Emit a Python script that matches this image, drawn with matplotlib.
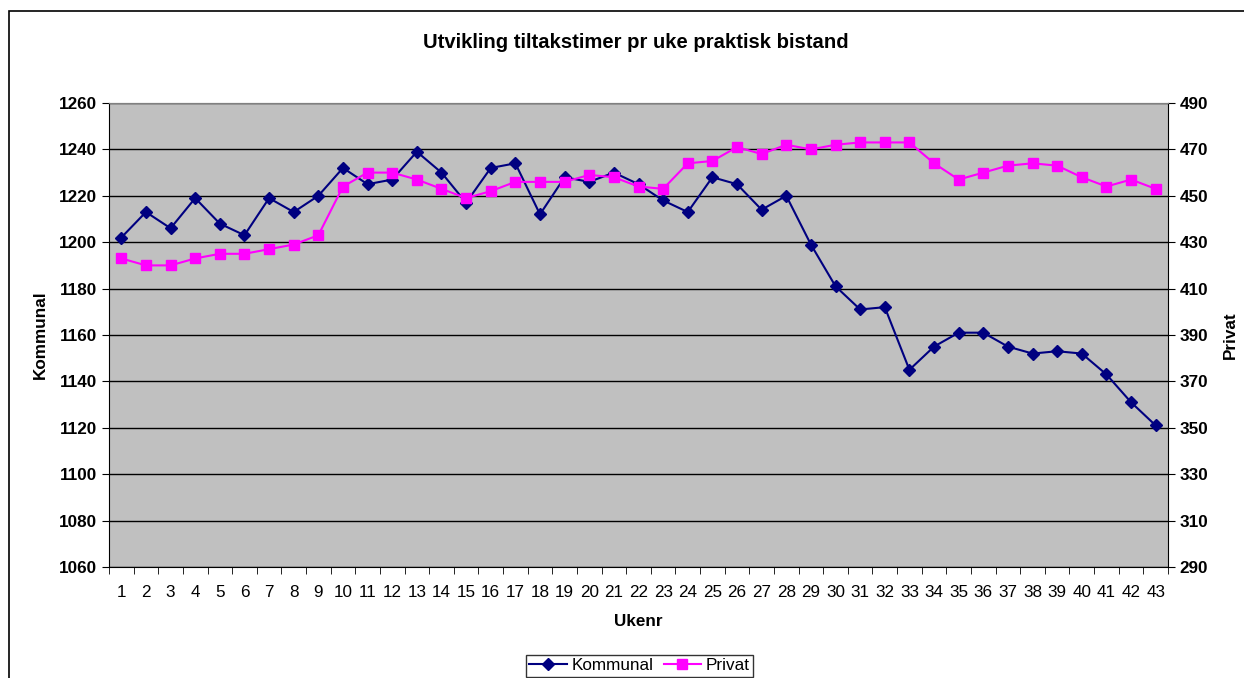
import matplotlib
matplotlib.use("Agg")
import matplotlib.pyplot as plt
from matplotlib.patches import Rectangle

plt.rcParams['font.family'] = ['Liberation Sans', 'DejaVu Sans']

weeks = list(range(1, 44))
kommunal = [1202, 1213, 1206, 1219, 1208, 1203, 1219, 1213, 1220, 1232,
            1225, 1227, 1239, 1230, 1217, 1232, 1234, 1212, 1228, 1226,
            1230, 1225, 1218, 1213, 1228, 1225, 1214, 1220, 1199, 1181,
            1171, 1172, 1145, 1155, 1161, 1161, 1155, 1152, 1153, 1152,
            1143, 1131, 1121]
privat = [423, 420, 420, 423, 425, 425, 427, 429, 433, 454,
          460, 460, 457, 453, 449, 452, 456, 456, 456, 459,
          458, 454, 453, 464, 465, 471, 468, 472, 470, 472,
          473, 473, 473, 464, 457, 460, 463, 464, 463, 458,
          454, 457, 453]

left_ticks = list(range(1060, 1261, 20))
right_ticks = list(range(290, 491, 20))

fs = 12.3

fig = plt.figure(figsize=(12.44, 6.78), dpi=100)
fig.patches.append(Rectangle((9 / 1244, -0.1), 1.2, 0.1 + (678 - 11) / 678,
                             transform=fig.transFigure, fill=False,
                             edgecolor='black', linewidth=1.2))

ax = fig.add_axes([109 / 1244, 111 / 678, 1059 / 1244, 464 / 678])
ax.set_facecolor('#C0C0C0')
ax2 = ax.twinx()

l1, = ax.plot(weeks, kommunal, color='#000080', marker='D', markersize=6.3,
              linewidth=1.5, label='Kommunal')
l2, = ax2.plot(weeks, privat, color='#FF00FF', marker='s', markersize=7.6,
               linewidth=1.5, label='Privat')

ax.set_xlim(0.5, 43.5)
ax.set_ylim(1060, 1260)
ax2.set_ylim(290, 490)
ax.set_yticks(left_ticks)
ax2.set_yticks(right_ticks)
ax.yaxis.grid(True, color='black', linewidth=1)
ax.set_axisbelow(True)

ax.set_xticks(weeks)
ax.set_xticks([w + 0.5 for w in range(0, 44)], minor=True)
ax.tick_params(axis='x', which='major', length=0, labelsize=fs, pad=13)
ax.tick_params(axis='x', which='minor', length=5, direction='out')
ax.tick_params(axis='y', length=5, direction='out', labelsize=fs)
ax2.tick_params(axis='y', length=5, direction='out', labelsize=fs)
for lab in ax.get_yticklabels() + ax2.get_yticklabels():
    lab.set_fontweight('bold')

ax.spines['top'].set_color('#808080')
ax2.spines['top'].set_color('#808080')
ax2.spines['left'].set_visible(False)
ax2.spines['bottom'].set_visible(False)
ax.spines['right'].set_visible(False)

ax.set_xlabel('Ukenr', fontsize=fs, fontweight='bold', labelpad=10)
ax.set_ylabel('Kommunal', fontsize=fs, fontweight='bold', labelpad=8)
ax2.set_ylabel('Privat', fontsize=fs, fontweight='bold', labelpad=10)

fig.text(0.511, 1 - 43 / 678, 'Utvikling tiltakstimer pr uke praktisk bistand',
         ha='center', va='center', fontsize=14.6, fontweight='bold')

leg = fig.legend([l1, l2], ['Kommunal', 'Privat'], loc='upper center',
                 bbox_to_anchor=(0.514, 1 - 655 / 678), ncol=2, fontsize=fs,
                 frameon=True, fancybox=False, edgecolor='black',
                 handlelength=2.2, handletextpad=0.25, columnspacing=0.6,
                 borderpad=0.2, borderaxespad=0)
leg.get_frame().set_linewidth(1)

fig.savefig('out.png', dpi=100)
